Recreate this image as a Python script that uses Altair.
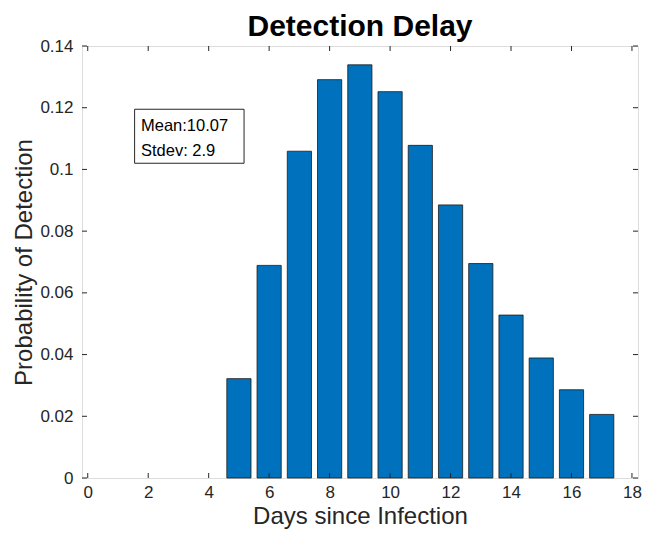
import altair as alt
import pandas as pd

days = [5, 6, 7, 8, 9, 10, 11, 12, 13, 14, 15, 16, 17]
probs = [0.0322, 0.0689, 0.1059, 0.1291, 0.1339, 0.1252, 0.1078, 0.0885, 0.0695, 0.0528, 0.0389, 0.0286, 0.0206]
x_ticks = [0, 2, 4, 6, 8, 10, 12, 14, 16, 18]
y_ticks = [0, 0.02, 0.04, 0.06, 0.08, 0.10, 0.12, 0.14]
note_lines = ["Mean:10.07", "Stdev: 2.9"]
note_box = {"x0": 1.55, "x1": 5.17, "y0": 0.1020, "y1": 0.1195}
note_x = 1.76
note_y = [0.1140, 0.1060]

BAR_HALF = 0.4
X_DOM = [-0.19, 18.2]
Y_DOM = [0, 0.14]
W, H = 556, 432
FONT = "Liberation Sans"
AX = "#262626"

bars_df = pd.DataFrame({"day": days, "p": probs})
bars_df["x0"] = bars_df["day"] - BAR_HALF
bars_df["x1"] = bars_df["day"] + BAR_HALF

xs = alt.Scale(domain=X_DOM, nice=False, zero=False)
ys = alt.Scale(domain=Y_DOM, nice=False)

bars = alt.Chart(bars_df).mark_rect(color="#0072BD", stroke="#1a1a1a", strokeWidth=0.8).encode(
    x=alt.X("x0:Q", scale=xs, axis=alt.Axis(
        title="Days since Infection", values=x_ticks, format="d", ticks=False, domain=False, grid=False,
        labelFont=FONT, labelFontSize=17, labelColor=AX, labelPadding=6,
        titleFont=FONT, titleFontSize=24, titleFontWeight="normal", titleColor=AX, titlePadding=4)),
    x2="x1:Q",
    y=alt.Y("p:Q", scale=ys, axis=alt.Axis(
        title="Probability of Detection", values=y_ticks, format=".2~f", ticks=False, domain=False, grid=False,
        labelFont=FONT, labelFontSize=17, labelColor=AX, labelPadding=9,
        titleFont=FONT, titleFontSize=24, titleFontWeight="normal", titleColor=AX, titlePadding=3)),
    y2=alt.datum(0),
)

xt = pd.DataFrame({"t": x_ticks})
yt = pd.DataFrame({"t": y_ticks})
TL = 5
xtick_b = alt.Chart(xt).mark_rule(color=AX, strokeWidth=1).encode(
    x=alt.X("t:Q", scale=xs), y=alt.value(H), y2=alt.value(H - TL))
xtick_t = alt.Chart(xt).mark_rule(color=AX, strokeWidth=1).encode(
    x=alt.X("t:Q", scale=xs), y=alt.value(0), y2=alt.value(TL))
ytick_l = alt.Chart(yt).mark_rule(color=AX, strokeWidth=1).encode(
    y=alt.Y("t:Q", scale=ys), x=alt.value(0), x2=alt.value(TL))
ytick_r = alt.Chart(yt).mark_rule(color=AX, strokeWidth=1).encode(
    y=alt.Y("t:Q", scale=ys), x=alt.value(W), x2=alt.value(W - TL))

box_df = pd.DataFrame({k: [v] for k, v in note_box.items()})
box = alt.Chart(box_df).mark_rect(fill="white", stroke=AX, strokeWidth=1).encode(
    x=alt.X("x0:Q", scale=xs), x2="x1:Q", y=alt.Y("y0:Q", scale=ys), y2="y1:Q")

note_df = pd.DataFrame({"txt": note_lines, "x": [note_x] * len(note_lines), "y": note_y})
note = alt.Chart(note_df).mark_text(align="left", baseline="middle", font=FONT, fontSize=16.5, color="#000000").encode(
    x=alt.X("x:Q", scale=xs), y=alt.Y("y:Q", scale=ys), text="txt:N")

chart = alt.layer(bars, xtick_b, xtick_t, ytick_l, ytick_r, box, note).properties(
    width=W, height=H,
    title=alt.TitleParams("Detection Delay", font=FONT, fontSize=30, fontWeight="bold", color="#000000",
                          anchor="middle", offset=-5),
    autosize=alt.AutoSizeParams(type="none"),
    padding={"left": 74, "top": 38, "right": 5, "bottom": 55},
).configure_view(stroke=AX, strokeWidth=1).configure(background="white")

chart.save("out.html", embed_options={"renderer": "svg", "actions": False})
